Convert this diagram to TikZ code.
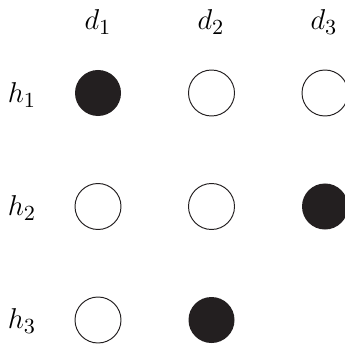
\documentclass[tikz,border=0pt]{standalone}
\usepackage{xcolor}
\definecolor{dot-full}{HTML}{231F20}
\usepackage{tikz}

\tikzset{
    dotempty/.style={circle, draw=dot-full, line width=0.4pt, fill=white, minimum size=0.676cm, inner sep=0pt},
    dotfull/.style={circle, fill=dot-full, minimum size=0.676cm, inner sep=0pt},
    lbl/.style={font=\fontsize{12.5}{14}\selectfont},
}

\begin{document}
\begin{tikzpicture}[x=0.0147cm, y=-0.0147cm]

    % Background
    \useasboundingbox (0,0) rectangle (344,345);

% Etiquetas de columnas
\node[lbl] (d1) at (98,22) {$d_1$};
\node[lbl] (d2) at (211,22) {$d_2$};
\node[lbl] (d3) at (324,22) {$d_3$};

% Etiquetas de filas
\node[lbl] (h1) at (22,95) {$h_1$};
\node[lbl] (h2) at (22,208) {$h_2$};
\node[lbl] (h3) at (22,321) {$h_3$};

% Fila 1
\node[dotfull]  (c11) at (98,93) {};
\node[dotempty] (c12) at (211.5,93) {};
\node[dotempty] (c13) at (325,93) {};

% Fila 2
\node[dotempty] (c21) at (98,206.5) {};
\node[dotempty] (c22) at (211.5,206.5) {};
\node[dotfull]  (c23) at (325,206.5) {};

% Fila 3
\node[dotempty] (c31) at (98,320) {};
\node[dotfull]  (c32) at (211.5,320) {};

\end{tikzpicture}
\end{document}
